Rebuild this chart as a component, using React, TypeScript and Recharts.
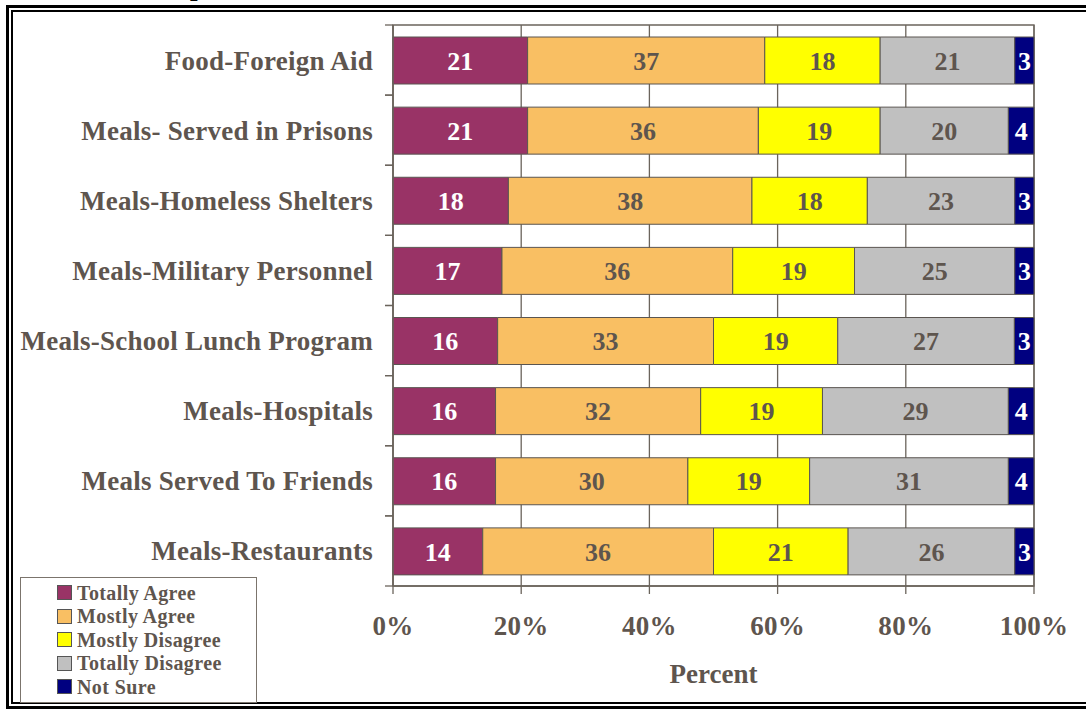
import React from 'react';
import { BarChart, Bar, XAxis, YAxis, CartesianGrid, LabelList, Legend, ReferenceArea } from 'recharts';

const categories = [
  'Food-Foreign Aid',
  'Meals- Served in Prisons',
  'Meals-Homeless Shelters',
  'Meals-Military Personnel',
  'Meals-School Lunch Program',
  'Meals-Hospitals',
  'Meals Served To Friends',
  'Meals-Restaurants',
];
const totallyAgree = [21, 21, 18, 17, 16, 16, 16, 14];
const mostlyAgree = [37, 36, 38, 36, 33, 32, 30, 36];
const mostlyDisagree = [18, 19, 18, 19, 19, 19, 19, 21];
const totallyDisagree = [21, 20, 23, 25, 27, 29, 31, 26];
const notSure = [3, 4, 3, 3, 3, 4, 4, 3];
const xTicks = [0, 0.2, 0.4, 0.6, 0.8, 1];

const data = categories.map((c, i) => ({
  name: c,
  ta: totallyAgree[i],
  ma: mostlyAgree[i],
  md: mostlyDisagree[i],
  td: totallyDisagree[i],
  ns: notSure[i],
}));

const series = [
  { key: 'ta', name: 'Totally Agree', color: '#993366', text: '#ffffff' },
  { key: 'ma', name: 'Mostly Agree', color: '#F9BF63', text: '#5E554E' },
  { key: 'md', name: 'Mostly Disagree', color: '#FFFF00', text: '#5E554E' },
  { key: 'td', name: 'Totally Disagree', color: '#C0C0C0', text: '#5E554E' },
  { key: 'ns', name: 'Not Sure', color: '#000080', text: '#ffffff' },
];

const FONT = '"Liberation Serif", "Times New Roman", serif';
const TXT = '#5E554E';
const GRID = '#6B645C';

const YTick = (props: any) => {
  const { x, y, payload } = props;
  const half = payload && payload.offset ? payload.offset : 35;
  return (
    <g>
      <line x1={x + 12} x2={x + 20} y1={y - half} y2={y - half} stroke={GRID} strokeWidth={1.3} />
      <line x1={x + 12} x2={x + 20} y1={y + half} y2={y + half} stroke={GRID} strokeWidth={1.3} />
      <text
        x={x}
        y={y}
        dy="0.35em"
        textAnchor="end"
        fill={TXT}
        fontFamily={FONT}
        fontWeight="bold"
        fontSize={27}
        letterSpacing={0.25}
      >
        {payload.value}
      </text>
    </g>
  );
};

const LegendContent = () => (
  <div
    style={{
      boxSizing: 'border-box',
      width: 237,
      height: 126,
      border: '1.5px solid #7B746C',
      background: '#fff',
      paddingTop: 3,
      paddingLeft: 36,
    }}
  >
    {series.map((s) => (
      <div key={s.key} style={{ display: 'flex', alignItems: 'center', height: 23.5 }}>
        <span
          style={{
            display: 'inline-block',
            width: 13,
            height: 13,
            background: s.color,
            border: '1px solid #555',
            marginRight: 5,
          }}
        />
        <span
          style={{
            fontFamily: FONT,
            fontWeight: 'bold',
            fontSize: 20,
            color: TXT,
            lineHeight: '20px',
            letterSpacing: 0.4,
          }}
        >
          {s.name}
        </span>
      </div>
    ))}
  </div>
);

export default function App() {
  return (
    <div style={{ position: 'absolute', left: 0, top: 0, width: 1086, height: 711, overflow: 'hidden', background: '#fff' }}>
      <div
        style={{
          position: 'absolute',
          left: 190,
          top: -27,
          fontFamily: FONT,
          fontWeight: 'bold',
          fontSize: 27,
          lineHeight: '27px',
          color: '#000',
        }}
      >
        p
      </div>
      <div
        style={{
          position: 'absolute',
          left: 6,
          top: 5,
          width: 1200,
          height: 704,
          boxSizing: 'border-box',
          border: '3.5px solid #000',
        }}
      />
      <div
        style={{
          position: 'absolute',
          left: 11,
          top: 10,
          width: 1200,
          height: 694,
          boxSizing: 'border-box',
          border: '2px solid #000',
        }}
      />
      <div style={{ position: 'absolute', left: 0, top: 0 }}>
        <BarChart
          width={1086}
          height={711}
          data={data}
          layout="vertical"
          stackOffset="expand"
          margin={{ top: 25, right: 52, bottom: 0, left: 0 }}
          barSize={47}
        >
          <CartesianGrid horizontal={false} stroke={GRID} strokeWidth={1.3} />
          <XAxis
            type="number"
            domain={[0, 1]}
            ticks={xTicks}
            tickFormatter={(v: number) => `${Math.round(v * 100)}%`}
            height={125}
            tickSize={8}
            tickMargin={22}
            tickLine={{ stroke: GRID, strokeWidth: 1.3 }}
            axisLine={{ stroke: GRID, strokeWidth: 1.3 }}
            tick={{ fill: TXT, fontFamily: FONT, fontWeight: 'bold', fontSize: 27, letterSpacing: 0.3 }}
            interval={0}
            label={{
              value: 'Percent',
              position: 'insideBottom',
              offset: 28,
              fill: TXT,
              fontFamily: FONT,
              fontWeight: 'bold',
              fontSize: 27,
            }}
          />
          <YAxis
            type="category"
            dataKey="name"
            width={393}
            tickLine={false}
            tickSize={8}
            tickMargin={12}
            axisLine={{ stroke: GRID, strokeWidth: 1.3 }}
            tick={<YTick />}
            interval={0}
          />
          <ReferenceArea x1={0} x2={1} fill="none" stroke={GRID} strokeWidth={1.3} ifOverflow="visible" />
          {series.map((s) => (
            <Bar
              key={s.key}
              dataKey={s.key}
              name={s.name}
              stackId="a"
              fill={s.color}
              stroke="#5A5550"
              strokeWidth={1}
              isAnimationActive={false}
            >
              <LabelList
                dataKey={s.key}
                position="center"
                fill={s.text}
                fontFamily={FONT}
                fontWeight="bold"
                fontSize={26}
              />
            </Bar>
          ))}
          <Legend
            layout="vertical"
            align="center"
            verticalAlign="middle"
            content={<LegendContent />}
            wrapperStyle={{ position: 'absolute', left: 20, top: 577, width: 237, height: 126 }}
          />
        </BarChart>
      </div>
    </div>
  );
}
